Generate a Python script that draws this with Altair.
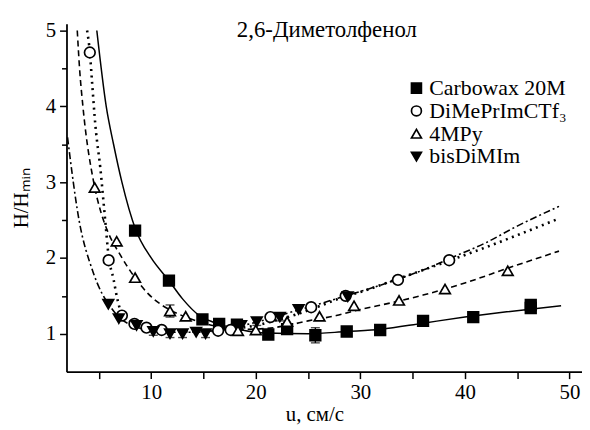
import altair as alt
import pandas as pd

SERIES = ["Carbowax 20M", "DiMePrImCTf\u2083", "4MPy", "bisDiMIm"]
SHAPES = ["square", "circle", "triangle-up", "triangle-down"]
FILLS = ["black", "white", "white", "black"]
STROKES = ["black", "black", "black", "black"]

# measured points
carb_x = [8.46, 11.7, 14.9, 16.5, 18.2, 21.2, 23.0, 25.7, 28.7, 31.9, 36.0, 40.8, 46.3, 46.3]
carb_y = [2.36, 1.70, 1.19, 1.13, 1.12, 0.99, 1.06, 0.98, 1.03, 1.05, 1.17, 1.22, 1.38, 1.34]
dime_x = [4.13, 5.93, 7.2, 8.4, 9.55, 11.0, 16.4, 17.6, 21.4, 25.3, 28.6, 33.6, 38.5]
dime_y = [4.71, 1.97, 1.24, 1.13, 1.08, 1.05, 1.04, 1.05, 1.22, 1.35, 1.50, 1.71, 1.97]
mpy_x = [4.6, 6.7, 8.46, 11.8, 13.3, 18.3, 20.0, 23.0, 26.1, 29.4, 33.7, 38.1, 44.1]
mpy_y = [2.93, 2.22, 1.74, 1.30, 1.23, 1.04, 1.05, 1.16, 1.23, 1.37, 1.44, 1.59, 1.83]
bis_x = [5.9, 6.9, 8.6, 10.2, 11.8, 13.0, 14.3, 15.2, 18.6, 20.1, 22.3, 24.1, 28.8]
bis_y = [1.39, 1.20, 1.11, 1.03, 1.00, 1.00, 1.02, 1.00, 1.11, 1.16, 1.22, 1.32, 1.49]

# error bars: series index, x, y, half-width
err_s = [0, 3, 3, 3, 3, 3, 3, 2, 2]
err_x = [25.7, 10.2, 11.8, 13.0, 15.2, 20.1, 22.3, 11.8, 18.3]
err_y = [0.98, 1.03, 1.00, 1.00, 1.00, 1.16, 1.22, 1.30, 1.04]
err_e = [0.10, 0.05, 0.05, 0.05, 0.05, 0.05, 0.05, 0.08, 0.05]

# fitted curves
c_carb_x = [4.8, 5.7, 6.4, 7.2, 8.5, 10, 11.7, 13, 14.6, 16, 18, 21, 25, 28.7, 32, 36, 40, 44, 49.2]
c_carb_y = [5.0, 4.0, 3.5, 3.0, 2.38, 2.0, 1.70, 1.46, 1.24, 1.15, 1.07, 1.01, 1.0, 1.03, 1.06, 1.14, 1.22, 1.29, 1.37]
c_dime_x = [3.87, 4.13, 4.35, 4.67, 5.14, 5.6, 5.93, 6.4, 6.7, 7.2, 8, 9, 10, 12, 14, 16, 18, 20, 22, 24, 26, 28.3, 30, 33.5, 36, 38.6, 42, 45, 49]
c_dime_y = [5.0, 4.72, 4.31, 3.74, 3.18, 2.5, 2.02, 1.72, 1.5, 1.26, 1.16, 1.1, 1.07, 1.04, 1.03, 1.04, 1.07, 1.11, 1.18, 1.26, 1.36, 1.48, 1.55, 1.72, 1.84, 1.97, 2.14, 2.3, 2.52]
c_mpy_x = [2.93, 3.15, 3.47, 4.5, 5.2, 5.9, 7, 8.5, 9.7, 11, 12, 13.3, 15, 17, 19, 21, 23, 25, 27.7, 30, 33, 36, 40, 44, 49]
c_mpy_y = [5.0, 4.5, 4.0, 3.0, 2.6, 2.33, 2.05, 1.73, 1.53, 1.38, 1.3, 1.22, 1.14, 1.08, 1.06, 1.07, 1.11, 1.17, 1.24, 1.32, 1.41, 1.51, 1.67, 1.86, 2.09]
c_bis_x = [2.0, 3.1, 4.35, 5.3, 5.93, 6.9, 8, 9, 10, 12, 14, 16, 18, 20, 22, 24, 26, 28.6, 31, 33.6, 36, 39, 42, 45, 49]
c_bis_y = [3.59, 2.5, 1.85, 1.53, 1.39, 1.22, 1.12, 1.07, 1.04, 1.02, 1.02, 1.04, 1.09, 1.15, 1.23, 1.31, 1.39, 1.5, 1.6, 1.72, 1.84, 2.02, 2.2, 2.42, 2.68]

title_text = ["2,6-\u0414\u0438\u043c\u0435\u0442\u043e\u043b\u0444\u0435\u043d\u043e\u043b"]
title_x = [26.8]
title_y = [4.92]

pts = pd.concat([
    pd.DataFrame({"u": xs, "h": ys, "s": SERIES[i]})
    for i, (xs, ys) in enumerate([(carb_x, carb_y), (dime_x, dime_y), (mpy_x, mpy_y), (bis_x, bis_y)])
])
curves = pd.concat([
    pd.DataFrame({"u": xs, "h": ys, "s": SERIES[i]})
    for i, (xs, ys) in enumerate([(c_carb_x, c_carb_y), (c_dime_x, c_dime_y), (c_mpy_x, c_mpy_y), (c_bis_x, c_bis_y)])
])
errs = pd.DataFrame({
    "u": err_x,
    "lo": [y - e for y, e in zip(err_y, err_e)],
    "hi": [y + e for y, e in zip(err_y, err_e)],
    "s": [SERIES[i] for i in err_s],
})
ttl = pd.DataFrame({"u": title_x, "h": title_y, "t": title_text})

FONT = "'Liberation Serif', 'Times New Roman', Times, serif"
xs = alt.Scale(domain=[1.9, 51.2], nice=False, zero=False)
ys = alt.Scale(domain=[0.5, 5.09], nice=False, zero=False)

x_axis = alt.Axis(
    values=[5, 10, 15, 20, 25, 30, 35, 40, 45, 50],
    labelExpr="datum.value % 10 == 0 ? format(datum.value, 'd') : ''",
    title="u, \u0441\u043c/\u0441",
    tickSize=7, labelPadding=3, titlePadding=1, titleX=250,
)
y_axis = alt.Axis(
    values=[1, 1.5, 2, 2.5, 3, 3.5, 4, 4.5, 5],
    labelExpr="datum.value % 1 == 0 ? format(datum.value, 'd') : ''",
    title="H/H\u2098\u1d62\u2099",
    tickSize={"condition": {"test": "datum.value % 1 == 0", "value": 7}, "value": 5},
    labelPadding=4, titlePadding=14,
)

base_x = alt.X("u:Q", scale=xs, axis=x_axis)
base_y = alt.Y("h:Q", scale=ys, axis=y_axis)

styles = [
    dict(strokeWidth=1.5),
    dict(strokeWidth=2.6, strokeDash=[2, 4.5]),
    dict(strokeWidth=1.6, strokeDash=[6, 4]),
    dict(strokeWidth=1.6, strokeDash=[7, 3, 2, 3]),
]
line_layers = []
for name, st in zip(SERIES, styles):
    line_layers.append(
        alt.Chart(curves).transform_filter(alt.datum.s == name)
        .mark_line(color="black", interpolate="monotone", clip=True, **st)
        .encode(x=base_x, y=base_y)
    )

err_rule = alt.Chart(errs).mark_rule(color="black", strokeWidth=1.4).encode(
    x=alt.X("u:Q", scale=xs), y=alt.Y("lo:Q", scale=ys), y2="hi:Q")
cap_lo = alt.Chart(errs).mark_tick(color="black", orient="horizontal", size=9, thickness=1.4).encode(
    x=alt.X("u:Q", scale=xs), y=alt.Y("lo:Q", scale=ys))
cap_hi = alt.Chart(errs).mark_tick(color="black", orient="horizontal", size=9, thickness=1.4).encode(
    x=alt.X("u:Q", scale=xs), y=alt.Y("hi:Q", scale=ys))

points = alt.Chart(pts).mark_point(filled=False, strokeWidth=1.7, opacity=1, size=115).encode(
    x=base_x, y=base_y,
    shape=alt.Shape("s:N", scale=alt.Scale(domain=SERIES, range=SHAPES), title=None),
    fill=alt.Fill("s:N", scale=alt.Scale(domain=SERIES, range=FILLS), title=None),
    stroke=alt.Stroke("s:N", scale=alt.Scale(domain=SERIES, range=STROKES), title=None),
)

title_layer = alt.Chart(ttl).mark_text(font=FONT, fontSize=23, baseline="alphabetic", align="center", color="black").encode(
    x=alt.X("u:Q", scale=xs), y=alt.Y("h:Q", scale=ys), text="t:N")

chart = alt.layer(*line_layers, err_rule, cap_lo, cap_hi, points, title_layer).properties(
    width=520, height=351,
    autosize=alt.AutoSizeParams(type="none"),
    padding={"left": 59, "top": 14, "right": 0, "bottom": 56},
).configure_view(strokeWidth=0).configure_axis(
    grid=False, domainColor="black", domainWidth=1.8, tickColor="black", tickWidth=1.5,
    labelFont=FONT, labelFontSize=21, labelColor="black",
    titleFont=FONT, titleFontSize=21, titleFontWeight="normal", titleColor="black",
).configure_legend(
    orient="none", legendX=342, legendY=54,
    labelFont=FONT, labelFontSize=22, labelColor="black",
    symbolSize=100, symbolStrokeWidth=1.7,
    labelOffset=2, rowPadding=1, padding=0, labelLimit=300,
)

chart.save("out.html", embed_options={"renderer": "svg", "actions": False})
